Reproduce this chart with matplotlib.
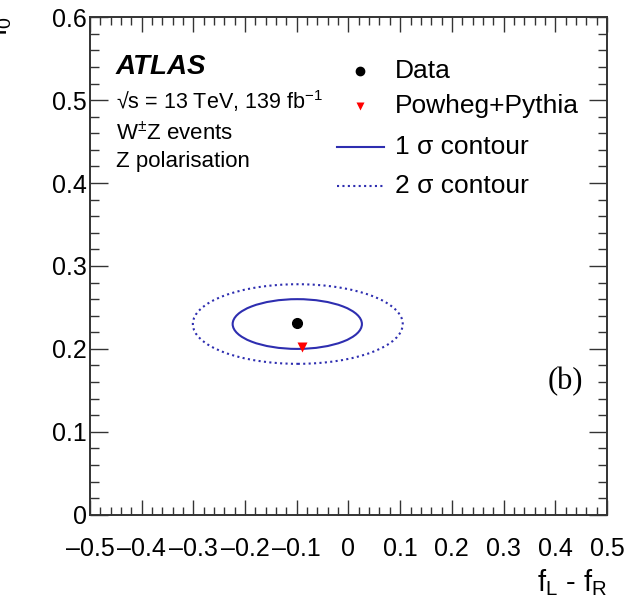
import matplotlib
matplotlib.use("Agg")
import matplotlib.pyplot as plt
from matplotlib.patches import Ellipse
from matplotlib.ticker import MultipleLocator, FuncFormatter

plt.rcParams["font.family"] = ["Liberation Sans", "DejaVu Sans"]
plt.rcParams["mathtext.fontset"] = "custom"
plt.rcParams["mathtext.rm"] = "Liberation Sans"
plt.rcParams["mathtext.it"] = "Liberation Sans:italic"

# measured point and prediction in the (fL - fR, f0) plane
data_x, data_y = -0.10, 0.231
pred_x, pred_y = -0.09, 0.202

# contour ellipses: (centre x, centre y, half-width, half-height)
contour_1s = (-0.099, 0.230, 0.125, 0.030)
contour_2s = (-0.098, 0.230, 0.203, 0.048)

legend_labels = ["Data", "Powheg+Pythia", "1 \u03c3 contour", "2 \u03c3 contour"]

BLUE = "#2e2eb0"
DOTS = (0, (1.0, 1.6))

fig = plt.figure(figsize=(6.29, 6.15), dpi=100)
ax = fig.add_axes([0.143, 0.163, 0.822, 0.809])

for (cx, cy, hw, hh), ls in [(contour_1s, "-"), (contour_2s, DOTS)]:
    ax.add_patch(Ellipse((cx, cy), 2 * hw, 2 * hh, fill=False,
                         edgecolor=BLUE, lw=1.5, linestyle=ls))

ax.plot(data_x, data_y, "o", color="black", ms=7)
ax.plot(pred_x, pred_y, "v", color="red", ms=7, mec="none")

ax.set_xlim(-0.5, 0.5)
ax.set_ylim(0, 0.6)

ax.xaxis.set_major_locator(MultipleLocator(0.1))
ax.xaxis.set_minor_locator(MultipleLocator(0.02))
ax.yaxis.set_major_locator(MultipleLocator(0.1))
ax.yaxis.set_minor_locator(MultipleLocator(0.02))

fmt = FuncFormatter(lambda v, p: "0" if abs(v) < 1e-9 else f"{v:.1f}".replace("-", "\u2013"))
ax.xaxis.set_major_formatter(fmt)
ax.yaxis.set_major_formatter(fmt)

ax.tick_params(axis="both", which="both", direction="in", top=True, right=True,
               labelsize=18, width=1.0, colors="#333333", labelcolor="black")
ax.tick_params(axis="x", which="major", length=11, pad=16)
ax.tick_params(axis="x", which="minor", length=5.5)
ax.tick_params(axis="y", which="major", length=13, pad=2)
ax.tick_params(axis="y", which="minor", length=6.5)
for s in ax.spines.values():
    s.set_linewidth(1.4)
    s.set_color("#333333")

# ATLAS label block
tx = 0.050
ax.text(tx, 0.900, "ATLAS", transform=ax.transAxes, fontsize=20,
        fontweight="bold", fontstyle="italic", va="center")
ax.text(tx, 0.831, "\u221as = 13 TeV, 139 fb$^{-1}$", transform=ax.transAxes,
        fontsize=15.5, va="center")
ax.text(tx, 0.767, r"W$^{\pm}$Z events", transform=ax.transAxes, fontsize=16,
        va="center")
ax.text(tx, 0.711, "Z polarisation", transform=ax.transAxes, fontsize=16,
        va="center")

ax.text(0.886, 0.267, "(b)", transform=ax.transAxes, fontsize=22,
        family="Liberation Serif", va="center")

# legend, laid out ROOT-style in axes coordinates
rows = [0.892, 0.821, 0.739, 0.661]
ax.plot(0.522, rows[0], "o", color="black", ms=6, transform=ax.transAxes)
ax.plot(0.522, rows[1], "v", color="red", mec="none", ms=6, transform=ax.transAxes)
ax.plot([0.478, 0.568], [rows[2]] * 2, color=BLUE, lw=1.5, transform=ax.transAxes)
ax.plot([0.478, 0.568], [rows[3]] * 2, color=BLUE, lw=1.5, ls=DOTS,
        transform=ax.transAxes)
for y, lab in zip(rows, legend_labels):
    ax.text(0.590, y, lab, transform=ax.transAxes, fontsize=19, va="center")

# axis titles
fig.text(0.965, 0.052, r"f$_{\mathrm{L}}$ - f$_{\mathrm{R}}$", ha="right",
         va="center", fontsize=21)
fig.text(-0.023, 0.958, r"f$_{0}$", rotation=90, ha="left", va="center", fontsize=20)

fig.savefig("out.png", dpi=100, facecolor="white")
